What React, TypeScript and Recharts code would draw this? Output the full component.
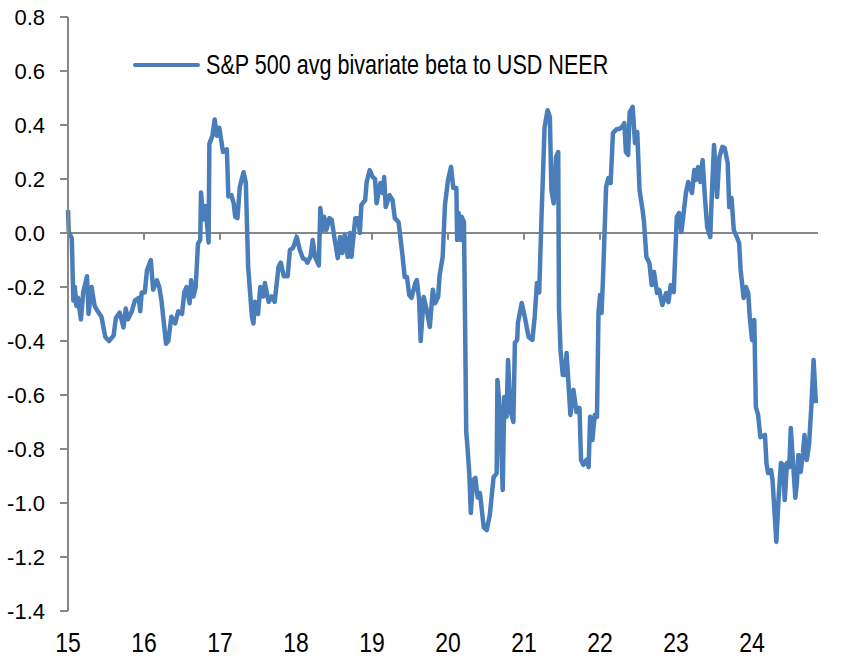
import React from 'react';
import { LineChart, Line, XAxis, YAxis, ReferenceLine } from 'recharts';

// decimal year (15 = Jan 2015) and the beta
const dates = [
  15.00, 15.01, 15.05, 15.07, 15.09, 15.11, 15.13, 15.17, 15.20, 15.25, 15.27, 15.31, 15.35, 15.38, 15.44, 15.49, 15.54, 15.60, 15.63, 15.68, 15.73, 15.76, 15.79, 15.84, 15.88, 15.93, 15.95, 15.97,
  16.01, 16.04, 16.09, 16.12, 16.17, 16.20, 16.23, 16.29, 16.32, 16.36, 16.41, 16.45, 16.50, 16.53, 16.56, 16.60, 16.62, 16.65, 16.68, 16.71, 16.74, 16.75, 16.78, 16.81, 16.85, 16.86, 16.90, 16.93, 16.96, 16.99,
  17.04, 17.09, 17.11, 17.15, 17.18, 17.20, 17.23, 17.26, 17.31, 17.34, 17.37, 17.42, 17.44, 17.46, 17.50, 17.53, 17.57, 17.59, 17.64, 17.68, 17.72, 17.77, 17.80, 17.84, 17.89, 17.92, 17.96,
  18.01, 18.05, 18.09, 18.13, 18.15, 18.19, 18.22, 18.25, 18.30, 18.32, 18.35, 18.37, 18.40, 18.44, 18.47, 18.51, 18.55, 18.58, 18.61, 18.64, 18.68, 18.71, 18.73, 18.78, 18.82, 18.84, 18.86, 18.91, 18.93, 18.97,
  19.01, 19.04, 19.06, 19.11, 19.14, 19.16, 19.18, 19.23, 19.27, 19.30, 19.35, 19.40, 19.43, 19.46, 19.49, 19.52, 19.57, 19.59, 19.62, 19.64, 19.68, 19.72, 19.76, 19.80, 19.83, 19.87, 19.89, 19.93, 19.96,
  20.00, 20.04, 20.07, 20.11, 20.12, 20.14, 20.17, 20.18, 20.21, 20.24, 20.25, 20.28, 20.30, 20.33, 20.36, 20.39, 20.42, 20.47, 20.51, 20.55, 20.60, 20.64, 20.65, 20.68, 20.72, 20.74, 20.77, 20.79, 20.82, 20.86, 20.88, 20.91, 20.92, 20.97,
  21.01, 21.06, 21.11, 21.14, 21.17, 21.20, 21.23, 21.25, 21.27, 21.31, 21.34, 21.36, 21.39, 21.42, 21.45, 21.46, 21.48, 21.51, 21.54, 21.56, 21.61, 21.65, 21.69, 21.73, 21.75, 21.78, 21.82, 21.85, 21.87, 21.90, 21.93, 21.96, 21.98,
  22.00, 22.02, 22.04, 22.08, 22.11, 22.14, 22.17, 22.22, 22.25, 22.29, 22.32, 22.34, 22.37, 22.39, 22.43, 22.46, 22.49, 22.52, 22.56, 22.58, 22.61, 22.65, 22.68, 22.71, 22.75, 22.78, 22.82, 22.87, 22.90, 22.93, 22.97,
  23.01, 23.04, 23.07, 23.09, 23.13, 23.16, 23.21, 23.24, 23.26, 23.29, 23.32, 23.35, 23.38, 23.41, 23.45, 23.47, 23.50, 23.54, 23.57, 23.61, 23.64, 23.68, 23.70, 23.73, 23.76, 23.80, 23.83, 23.85, 23.89, 23.92, 23.95, 23.97,
  24.00, 24.03, 24.05, 24.08, 24.11, 24.17, 24.19, 24.21, 24.25, 24.27, 24.32, 24.35, 24.38, 24.41, 24.43, 24.46, 24.49, 24.51, 24.54, 24.57, 24.59, 24.61, 24.64, 24.67, 24.69, 24.72, 24.75, 24.78, 24.81, 24.84,
];

const betas = [
  0.085, 0.005, -0.02, -0.25, -0.20, -0.27, -0.24, -0.32, -0.22, -0.16, -0.30, -0.20, -0.27, -0.285, -0.31, -0.385, -0.40, -0.38, -0.315, -0.295, -0.35, -0.28, -0.32, -0.29, -0.25, -0.24, -0.29, -0.22,
  -0.22, -0.137, -0.10, -0.21, -0.175, -0.20, -0.25, -0.41, -0.40, -0.31, -0.335, -0.29, -0.30, -0.22, -0.20, -0.26, -0.175, -0.235, -0.20, -0.04, -0.025, 0.15, 0.05, 0.10, -0.035, 0.33, 0.36, 0.42, 0.36, 0.39,
  0.30, 0.31, 0.135, 0.14, 0.11, 0.06, 0.055, 0.17, 0.225, 0.185, -0.125, -0.31, -0.335, -0.255, -0.30, -0.20, -0.235, -0.185, -0.255, -0.235, -0.255, -0.125, -0.11, -0.16, -0.16, -0.063, -0.056,
  -0.015, -0.063, -0.093, -0.10, -0.11, -0.088, -0.026, -0.088, -0.12, 0.093, 0.011, 0.06, 0.011, 0.055, 0.048, -0.026, -0.093, -0.015, -0.074, -0.007, -0.088, 0.0, -0.088, 0.055, 0.055, 0.0, 0.104, 0.122, 0.19, 0.233,
  0.207, 0.20, 0.11, 0.185, 0.148, 0.207, 0.096, 0.14, 0.122, 0.055, 0.04, -0.081, -0.163, -0.163, -0.23, -0.24, -0.185, -0.174, -0.248, -0.40, -0.237, -0.285, -0.348, -0.21, -0.26, -0.237, -0.155, -0.088, 0.104,
  0.196, 0.245, 0.167, 0.167, -0.026, 0.074, -0.026, 0.06, 0.04, -0.74, -0.77, -0.89, -1.037, -0.915, -0.907, -0.98, -0.963, -1.09, -1.10, -1.044, -0.904, -0.89, -0.544, -0.644, -0.952, -0.607, -0.681, -0.47, -0.656, -0.70, -0.407, -0.396, -0.333, -0.259,
  -0.311, -0.385, -0.396, -0.311, -0.185, -0.22, 0.06, 0.22, 0.39, 0.455, 0.43, 0.16, 0.11, 0.28, 0.30, -0.274, -0.433, -0.526, -0.526, -0.444, -0.674, -0.581, -0.663, -0.648, -0.84, -0.859, -0.84, -0.867, -0.681, -0.767, -0.674, -0.681, -0.296,
  -0.23, -0.296, -0.163, 0.17, 0.204, 0.185, 0.37, 0.385, 0.385, 0.393, 0.407, 0.30, 0.289, 0.448, 0.467, 0.333, 0.374, 0.159, 0.085, 0.037, -0.089, -0.111, -0.193, -0.144, -0.222, -0.211, -0.267, -0.222, -0.256, -0.193, -0.219,
  0.06, 0.074, 0.004, 0.048, 0.148, 0.189, 0.148, 0.233, 0.196, 0.244, 0.189, 0.27, 0.133, 0.022, -0.015, 0.133, 0.326, 0.133, 0.281, 0.319, 0.315, 0.259, 0.096, 0.13, 0.011, -0.015, -0.037, -0.137, -0.241, -0.20, -0.222, -0.311,
  -0.396, -0.322, -0.644, -0.674, -0.756, -0.748, -0.852, -0.889, -0.878, -0.915, -1.144, -0.978, -0.852, -0.859, -0.989, -0.852, -0.867, -0.722, -0.852, -0.981, -0.926, -0.822, -0.885, -0.815, -0.748, -0.841, -0.785, -0.644, -0.47, -0.63,
];

const yearTicks = [15, 16, 17, 18, 19, 20, 21, 22, 23, 24];
const yTicks = [-1.4, -1.2, -1.0, -0.8, -0.6, -0.4, -0.2, 0.0, 0.2, 0.4, 0.6, 0.8];
const seriesName = 'S&P 500 avg bivariate beta to USD NEER';

const data = dates.map((t, i) => ({ t, beta: betas[i] }));

const BLUE = '#4a7ebb';
const GREY = '#878787';
const FONT = '"Liberation Sans", Arial, sans-serif';

// x labels sit about 41px under the plot bottom; recharts hands us y = bottom + 8
const YearTick = ({ x, y, payload }: any) => (
  <text
    transform={`translate(${x} ${y + 33}) scale(0.82 1)`}
    textAnchor="middle"
    fontSize={28}
    fontFamily={FONT}
    fill="#000"
  >
    {payload.value}
  </text>
);

export default function App() {
  return (
    <div style={{ position: 'absolute', left: 0, top: 0, width: 852, height: 662, background: '#fff' }}>
      <LineChart
        width={852}
        height={662}
        data={data}
        margin={{ top: 17, right: 34, bottom: 0, left: 0 }}
      >
        <XAxis
          dataKey="t"
          type="number"
          domain={[15, 24.868]}
          ticks={yearTicks}
          axisLine={false}
          tickLine={false}
          height={51}
          tick={<YearTick />}
          interval={0}
        />
        <YAxis
          type="number"
          domain={[-1.4, 0.8]}
          ticks={yTicks}
          width={68}
          interval={0}
          tickFormatter={(v: number) => v.toFixed(1)}
          axisLine={{ stroke: GREY, strokeWidth: 2 }}
          tickLine={{ stroke: GREY, strokeWidth: 2 }}
          tickSize={8}
          tickMargin={15}
          tick={{ fontSize: 22, fill: '#000', fontFamily: FONT }}
        />
        <ReferenceLine y={0} stroke={GREY} strokeWidth={2} />
        {yearTicks.slice(1).map((yr) => (
          <ReferenceLine
            key={yr}
            segment={[{ x: yr, y: 0 }, { x: yr, y: -0.025 }]}
            stroke={GREY}
            strokeWidth={2}
          />
        ))}
        <Line
          type="linear"
          dataKey="beta"
          name={seriesName}
          stroke={BLUE}
          strokeWidth={4.5}
          strokeLinejoin="round"
          dot={false}
          isAnimationActive={false}
        />
      </LineChart>
      <div
        style={{
          position: 'absolute',
          left: 133,
          top: 49,
          height: 32,
          display: 'flex',
          alignItems: 'center',
          fontFamily: FONT,
          whiteSpace: 'nowrap',
        }}
      >
        <span style={{ display: 'inline-block', width: 67, height: 4, borderRadius: 2, background: BLUE }} />
        <span
          style={{
            display: 'inline-block',
            marginLeft: 6,
            fontSize: 28,
            lineHeight: '32px',
            color: '#000',
            transform: 'scaleX(0.77)',
            transformOrigin: 'left center',
          }}
        >
          {seriesName}
        </span>
      </div>
    </div>
  );
}
